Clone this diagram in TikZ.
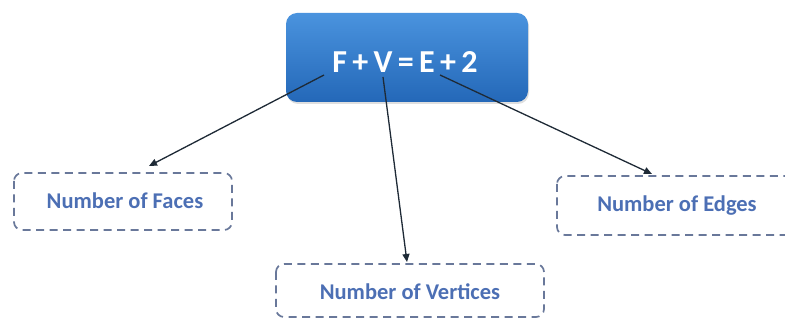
\documentclass[tikz,border=0pt]{standalone}
\usepackage{fontspec}
\setmainfont{Carlito}
\usetikzlibrary{arrows.meta,shadows}
\definecolor{mainblueTop}{HTML}{4A93DE}
\definecolor{mainblueBot}{HTML}{2468B8}
\definecolor{labelblue}{HTML}{4C6FB4}
\definecolor{dashgray}{HTML}{69789A}
\definecolor{arrowcol}{HTML}{1E2A36}
\tikzset{
  mainbox/.style={rounded corners=11pt, top color=mainblueTop, bottom color=mainblueBot, draw=none,
    drop shadow={shadow xshift=1pt, shadow yshift=-2pt, opacity=0.25}},
  dashbox/.style={draw=dashgray, line width=1.7pt, dash pattern=on 8pt off 5.5pt, rounded corners=8pt},
  dashlabel/.style={font=\bfseries\fontsize{22.5}{26}\selectfont, text=labelblue},
  link/.style={draw=arrowcol, line width=1.3pt, -{Triangle[length=8pt,width=7pt]}}
}
\begin{document}
\begin{tikzpicture}[x=1pt,y=-1pt]
\useasboundingbox (0,0) rectangle (785,320);
\clip (0,0) rectangle (785,320);
% main box
\path[mainbox] (286,13) rectangle (528,102);
\node[font=\bfseries\fontsize{32}{36}\selectfont, text=white] (eq) at (405,62) {F\,+\,V\,=\,E\,+\,2};
% dashed boxes
\draw[dashbox] (14,173) rectangle (232,230);
\node[dashlabel] (faces) at (125,201) {Number of Faces};
\draw[dashbox] (557,176) rectangle (800,235);
\node[dashlabel] (edges) at (677,206) {Number of Edges};
\draw[dashbox] (276,264) rectangle (544,317);
\node[dashlabel] (vertices) at (410,292) {Number of Vertices};
% connector coordinates
\coordinate (s1) at (324,75);
\coordinate (s2) at (383,77);
\coordinate (s3) at (440,75);
\coordinate (t1) at (149,166);
\coordinate (t2) at (407,262);
\coordinate (t3) at (652,174);
\draw[link] (s1) -- (t1);
\draw[link] (s2) -- (t2);
\draw[link] (s3) -- (t3);
\end{tikzpicture}
\end{document}
